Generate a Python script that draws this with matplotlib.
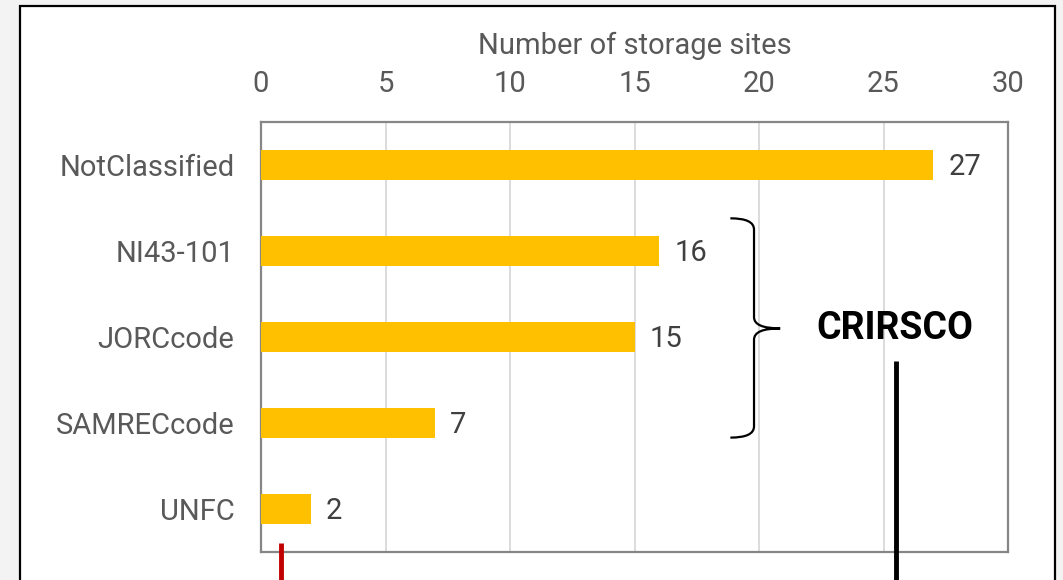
import numpy as np
import matplotlib.pyplot as plt
from matplotlib.path import Path
from matplotlib.patches import PathPatch, Rectangle

plt.rcParams['font.family'] = ['Roboto', 'DejaVu Sans']

categories = ['NotClassified', 'NI43-101', 'JORCcode', 'SAMRECcode', 'UNFC']
counts = [27, 16, 15, 7, 2]
xticks = [0, 5, 10, 15, 20, 25, 30]

fig = plt.figure(figsize=(10.63, 5.8), dpi=100)
fig.patch.set_facecolor('#f3f3f3')

# white panel with black frame (runs off the bottom of the picture)
fig.patches.append(Rectangle((20 / 1063, -0.05), 1035 / 1063, 1.05 - 6 / 580,
                             transform=fig.transFigure, facecolor='white',
                             edgecolor='black', linewidth=1.6, zorder=-5))

ax = fig.add_axes([261 / 1063, 1 - 552 / 580, 747 / 1063, 430 / 580])
ax.set_facecolor('white')

ypos = np.arange(len(categories))
ax.barh(ypos, counts, height=0.35, color='#ffc000', zorder=3)
for y, v in zip(ypos, counts):
    ax.text(v + 0.6, y + 0.02, str(v), va='center', ha='left', fontsize=21, color='#404040')

ax.set_xlim(0, 30)
ax.set_ylim(4.5, -0.5)
ax.set_xticks(xticks)
ax.set_yticks(ypos)
ax.set_yticklabels(categories)
ax.xaxis.tick_top()
ax.xaxis.set_label_position('top')
ax.set_xlabel('Number of storage sites', fontsize=21, color='#595959', labelpad=12)
ax.tick_params(axis='x', length=0, pad=17, labelsize=21, labelcolor='#595959')
ax.tick_params(axis='y', length=0, pad=19, labelsize=21, labelcolor='#595959')
ax.grid(axis='x', color='#d9d9d9', linewidth=1.3, zorder=0)
for s in ax.spines.values():
    s.set_color('#868686')
    s.set_linewidth(1.6)

# brace around the CRIRSCO codes
x0, x1, x2 = 18.85, 19.8, 20.85
yt, ym, yb, r = 0.62, 1.9, 3.17, 0.13
verts = [(x0, yt), (x1, yt), (x1, yt + r),
         (x1, ym - r), (x1, ym), (x2, ym),
         (x1, ym), (x1, ym + r),
         (x1, yb - r), (x1, yb), (x0, yb)]
codes = [Path.MOVETO, Path.CURVE3, Path.CURVE3,
         Path.LINETO, Path.CURVE3, Path.CURVE3,
         Path.CURVE3, Path.CURVE3,
         Path.LINETO, Path.CURVE3, Path.CURVE3]
ax.add_patch(PathPatch(Path(verts, codes), facecolor='none', edgecolor='black',
                       linewidth=1.6, clip_on=False, zorder=5))

ax.text(25.45, 1.9, 'CRIRSCO', ha='center', va='center', fontsize=27,
        fontweight='bold', color='black', zorder=5)

ax.plot([25.5, 25.5], [2.28, 5.2], color='black', linewidth=3.5, clip_on=False,
        solid_capstyle='butt', zorder=6)
ax.plot([0.8, 0.8], [4.4, 5.2], color='#c00000', linewidth=3.5, clip_on=False,
        solid_capstyle='butt', zorder=6)

fig.savefig('out.png', dpi=100, facecolor=fig.get_facecolor())
